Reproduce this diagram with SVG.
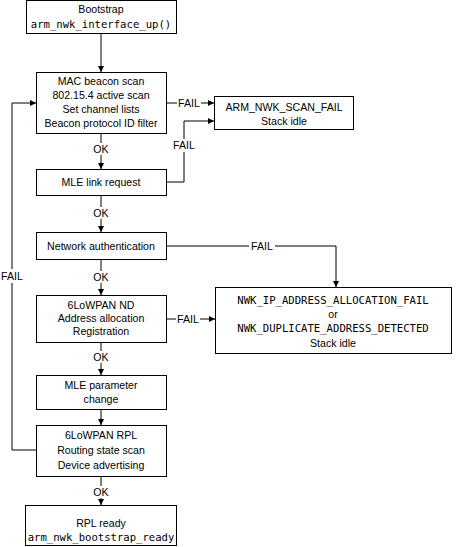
<svg xmlns="http://www.w3.org/2000/svg" width="457" height="547" viewBox="0 0 457 547">
<style>
.box{fill:#fff;stroke:#000;stroke-width:1}
.t{font-family:"Liberation Sans",Arial,sans-serif;font-size:10.6px;fill:#000;text-anchor:middle}
.m{font-family:"DejaVu Sans Mono","Liberation Mono",monospace;font-size:10.6px;fill:#000;text-anchor:middle}
.c{fill:none;stroke:#000;stroke-width:1}
</style>
<defs>
<marker id="ah" markerUnits="userSpaceOnUse" markerWidth="7" markerHeight="6" refX="6" refY="3" orient="auto">
<path d="M0,0 L6,3 L0,6 Z" fill="#000"/>
</marker>
</defs>
<rect width="457" height="547" fill="#fff"/>
<g id="connectors">
<path class="c" d="M101,34 V72" marker-end="url(#ah)"/>
<path class="c" d="M101,133 V143"/>
<path class="c" d="M101,155 V169" marker-end="url(#ah)"/>
<path class="c" d="M101,195 V207"/>
<path class="c" d="M101,219 V232" marker-end="url(#ah)"/>
<path class="c" d="M101,259 V271"/>
<path class="c" d="M101,283 V295" marker-end="url(#ah)"/>
<path class="c" d="M101,342 V351"/>
<path class="c" d="M101,363 V375" marker-end="url(#ah)"/>
<path class="c" d="M101,409 V425" marker-end="url(#ah)"/>
<path class="c" d="M101,476 V486"/>
<path class="c" d="M101,498 V505" marker-end="url(#ah)"/>
<path class="c" d="M166,103 H177"/>
<path class="c" d="M201,103 H214" marker-end="url(#ah)"/>
<path class="c" d="M166,182 H184 V152"/>
<path class="c" d="M184,139 V121 H214" marker-end="url(#ah)"/>
<path class="c" d="M166,246 H249"/>
<path class="c" d="M275,246 H336 V287" marker-end="url(#ah)"/>
<path class="c" d="M166,319 H176"/>
<path class="c" d="M200,319 H215" marker-end="url(#ah)"/>
<path class="c" d="M36,450 H12 V283"/>
<path class="c" d="M12,269 V103 H36" marker-end="url(#ah)"/>
<text class="t" x="101" y="153">OK</text>
<text class="t" x="101" y="217">OK</text>
<text class="t" x="101" y="281">OK</text>
<text class="t" x="101" y="361">OK</text>
<text class="t" x="101" y="496">OK</text>
<text class="t" x="189" y="107">FAIL</text>
<text class="t" x="184" y="149">FAIL</text>
<text class="t" x="262" y="250">FAIL</text>
<text class="t" x="188" y="323">FAIL</text>
<text class="t" x="12" y="280">FAIL</text>
</g>
<g id="bootstrap">
<rect class="box" x="26.5" y="0.5" width="150" height="33"/>
<text class="t" x="101" y="13">Bootstrap</text>
<text class="m" x="101" y="28">arm_nwk_interface_up()</text>
</g>
<g id="mac-scan">
<rect class="box" x="36.5" y="72.5" width="130" height="61"/>
<text class="t" x="101" y="85">MAC beacon scan</text>
<text class="t" x="101" y="99">802.15.4 active scan</text>
<text class="t" x="101" y="113">Set channel lists</text>
<text class="t" x="101" y="127">Beacon protocol ID filter</text>
</g>
<g id="scan-fail">
<rect class="box" x="214.5" y="96.5" width="139" height="33"/>
<text class="t" x="284" y="111">ARM_NWK_SCAN_FAIL</text>
<text class="t" x="284" y="125">Stack idle</text>
</g>
<g id="mle-link">
<rect class="box" x="36.5" y="169.5" width="130" height="26"/>
<text class="t" x="101" y="186">MLE link request</text>
</g>
<g id="net-auth">
<rect class="box" x="36.5" y="232.5" width="130" height="27"/>
<text class="t" x="101" y="250">Network authentication</text>
</g>
<g id="nd">
<rect class="box" x="36.5" y="295.5" width="130" height="47"/>
<text class="t" x="101" y="309">6LoWPAN ND</text>
<text class="t" x="101" y="322">Address allocation</text>
<text class="t" x="101" y="335">Registration</text>
</g>
<g id="addr-fail">
<rect class="box" x="215.5" y="287.5" width="236" height="66"/>
<text class="m" x="333" y="304">NWK_IP_ADDRESS_ALLOCATION_FAIL</text>
<text class="t" x="333" y="318">or</text>
<text class="m" x="333" y="332">NWK_DUPLICATE_ADDRESS_DETECTED</text>
<text class="t" x="333" y="347">Stack idle</text>
</g>
<g id="mle-param">
<rect class="box" x="36.5" y="375.5" width="130" height="34"/>
<text class="t" x="101" y="389">MLE parameter</text>
<text class="t" x="101" y="403">change</text>
</g>
<g id="rpl">
<rect class="box" x="36.5" y="425.5" width="130" height="51"/>
<text class="t" x="101" y="439">6LoWPAN RPL</text>
<text class="t" x="101" y="454">Routing state scan</text>
<text class="t" x="101" y="469">Device advertising</text>
</g>
<g id="rpl-ready">
<rect class="box" x="25.5" y="505.5" width="151" height="40"/>
<text class="t" x="101" y="527">RPL ready</text>
<text class="m" x="101" y="541">arm_nwk_bootstrap_ready</text>
</g>
</svg>
